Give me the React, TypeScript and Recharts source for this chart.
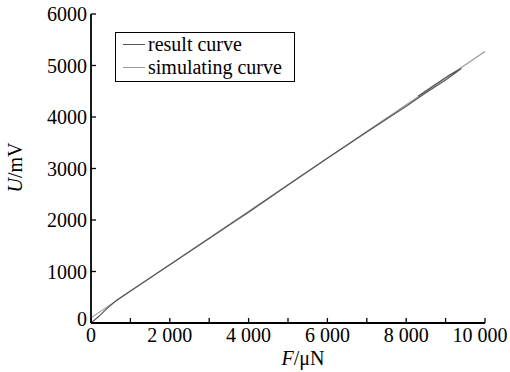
import React from "react";
import {
  LineChart,
  Line,
  XAxis,
  YAxis,
  Legend,
} from "recharts";

// force F (uN) vs output voltage U (mV)
const resultF = [0, 200, 400, 650, 1000, 2000, 3000, 3500, 4000, 5000, 6000, 7000, 8000, 8500, 9000, 9400, 9100, 8700, 8300];
const resultU = [0, 130, 280, 440, 620, 1130, 1640, 1900, 2150, 2680, 3200, 3710, 4210, 4470, 4720, 4940, 4815, 4610, 4405];

const simF = [0, 10000];
const simU = [100, 5270];

const xTicks = [0, 1000, 2000, 3000, 4000, 5000, 6000, 7000, 8000, 9000, 10000];
const yTicks = [0, 1000, 2000, 3000, 4000, 5000, 6000];

const resultData = resultF.map((f, i) => ({ F: f, U: resultU[i] }));
const simData = simF.map((f, i) => ({ F: f, U: simU[i] }));

const FONT = "'Liberation Serif', 'Times New Roman', serif";
const FS = 20;
const TICK = 5;
const AXIS = { stroke: "#000", strokeWidth: 1.8 };

const fmtX = (v: number) =>
  v >= 1000 ? `${Math.floor(v / 1000)} ${String(v % 1000).padStart(3, "0")}` : String(v);

function BottomTick({ x, y, payload }: any) {
  const v = payload.value;
  // the last label is pushed in so it stays on the page
  const lx = v === 10000 ? x - 5 : x;
  return (
    <g>
      <line x1={x} y1={y} x2={x} y2={y - TICK} stroke="#000" strokeWidth={1.3} />
      {v % 2000 === 0 && (
        <text x={lx} y={y + 19} textAnchor="middle" fontSize={FS} fontFamily={FONT} fill="#000">
          {fmtX(v)}
        </text>
      )}
    </g>
  );
}

function TopTick({ x, y }: any) {
  return <line x1={x} y1={y} x2={x} y2={y + TICK} stroke="#000" strokeWidth={1.3} />;
}

function LeftTick({ x, y, payload }: any) {
  // the zero label sits a little higher in the original
  const dy = payload.value === 0 ? 3 : 7;
  return (
    <g>
      <line x1={x} y1={y} x2={x + TICK} y2={y} stroke="#000" strokeWidth={1.3} />
      <text x={x - 4} y={y + dy} textAnchor="end" fontSize={FS} fontFamily={FONT} fill="#000">
        {payload.value}
      </text>
    </g>
  );
}

function RightTick({ x, y }: any) {
  return <line x1={x} y1={y} x2={x - TICK} y2={y} stroke="#000" strokeWidth={1.3} />;
}

function LegendBox() {
  const row = (color: string, label: string) => (
    <div style={{ display: "flex", alignItems: "center", height: 23 }}>
      <div style={{ width: 22, borderTop: `1.3px solid ${color}`, marginRight: 3 }} />
      <span>{label}</span>
    </div>
  );
  return (
    <div
      style={{
        boxSizing: "border-box",
        border: "1px solid #000",
        background: "#fff",
        width: 180,
        height: 50,
        padding: "0 0 0 7px",
        fontFamily: FONT,
        fontSize: FS,
        color: "#000",
        lineHeight: "23px",
      }}
    >
      {row("#555", "result curve")}
      {row("#9a9a9a", "simulating curve")}
    </div>
  );
}

export default function App() {
  return (
    <div style={{ position: "absolute", left: 0, top: 0, background: "#fff", fontFamily: FONT }}>
      <LineChart width={510} height={372} margin={{ top: 14, right: 25, left: 0, bottom: 0 }}>
        <XAxis
          xAxisId={0}
          dataKey="F"
          type="number"
          domain={[0, 10000]}
          ticks={xTicks}
          interval={0}
          height={49}
          tickSize={0}
          tickMargin={0}
          tickLine={false}
          tick={<BottomTick />}
          axisLine={AXIS}
          allowDataOverflow
          label={({ viewBox }: any) => (
            <text
              x={viewBox.x + viewBox.width / 2 + 15}
              y={viewBox.y + 42}
              textAnchor="middle"
              fontSize={FS}
              fontFamily={FONT}
              fill="#000"
            >
              <tspan fontStyle="italic">F</tspan>/μN
            </text>
          )}
        />
        <XAxis
          xAxisId="top"
          orientation="top"
          dataKey="F"
          type="number"
          domain={[0, 10000]}
          ticks={xTicks}
          interval={0}
          height={0}
          tickSize={0}
          tickMargin={0}
          tickLine={false}
          tick={<TopTick />}
          axisLine={AXIS}
        />
        <YAxis
          yAxisId={0}
          type="number"
          domain={[0, 6000]}
          ticks={yTicks}
          interval={0}
          width={91}
          tickSize={0}
          tickMargin={0}
          tickLine={false}
          tick={<LeftTick />}
          axisLine={AXIS}
          allowDataOverflow
          label={({ viewBox }: any) => {
            const cx = 22;
            const cy = viewBox.y + viewBox.height / 2 - 1;
            return (
              <text
                x={cx}
                y={cy}
                transform={`rotate(-90 ${cx} ${cy})`}
                textAnchor="middle"
                fontSize={FS}
                fontFamily={FONT}
                fill="#000"
              >
                <tspan fontStyle="italic">U</tspan>/mV
              </text>
            );
          }}
        />
        <YAxis
          yAxisId="right"
          orientation="right"
          type="number"
          domain={[0, 6000]}
          ticks={yTicks}
          interval={0}
          width={0}
          tickSize={0}
          tickMargin={0}
          tickLine={false}
          tick={<RightTick />}
          axisLine={AXIS}
        />
        <Legend
          layout="horizontal"
          verticalAlign="middle"
          align="center"
          content={<LegendBox />}
          wrapperStyle={{ position: "absolute", left: 115, top: 32, width: "auto", height: "auto" }}
        />
        <Line
          data={simData}
          dataKey="U"
          name="simulating curve"
          stroke="#9a9a9a"
          strokeWidth={1.2}
          dot={false}
          isAnimationActive={false}
          type="linear"
        />
        <Line
          data={resultData}
          dataKey="U"
          name="result curve"
          stroke="#555"
          strokeWidth={1.2}
          dot={false}
          isAnimationActive={false}
          type="linear"
        />
      </LineChart>
    </div>
  );
}
